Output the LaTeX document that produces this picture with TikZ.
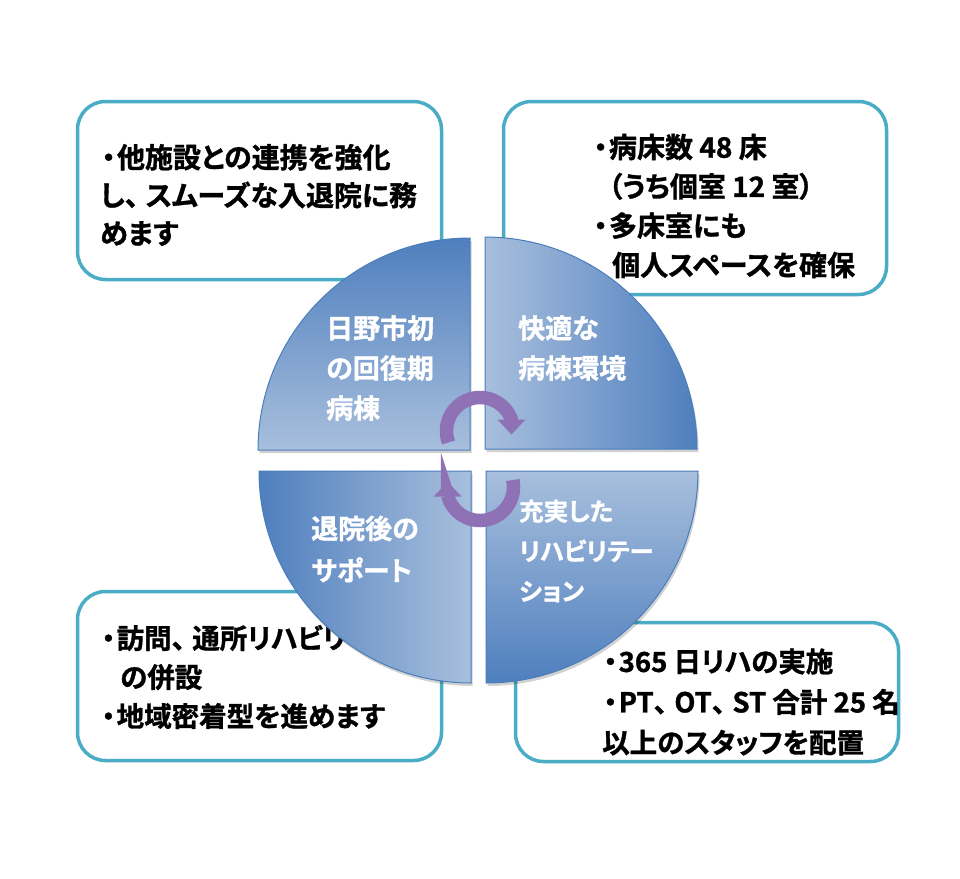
\documentclass[tikz,border=0pt]{standalone}
\usepackage{fontspec}
\setmainfont{Noto Sans CJK JP}[BoldFont={Noto Sans CJK JP Bold},BoldFeatures={FakeBold=1.2},CharacterWidth=AlternateProportional]
\usetikzlibrary{arrows.meta}
\definecolor{boxline}{HTML}{4BACC6}
\definecolor{wdark}{HTML}{4F7FBE}
\definecolor{wlight}{HTML}{A8BFDD}
\definecolor{wedgeline}{HTML}{4A7EBB}
\definecolor{arrowfill}{HTML}{8F72B6}
\newcommand{\bul}{\makebox[0.6em][c]{・}}
\newcommand{\tou}{\makebox[0.75em][l]{、}}
\begin{document}
\begin{tikzpicture}[x=1pt,y=-1pt,
  infobox/.style={draw=boxline, line width=3.5pt, rounded corners=28pt, fill=white, inner sep=0pt},
  boxtext/.style={anchor=west, align=left, inner sep=0pt, font=\bfseries\fontsize{27.5}{39}\selectfont, text=black},
  wedgetext/.style={anchor=west, align=left, inner sep=0pt, font=\bfseries\fontsize{27}{40}\selectfont, text=white},
  wedge/.style={draw=wedgeline, line width=1pt},
  wshadow/.style={fill=black, opacity=0.18, shift={(1.5,3)}},
  cyc/.style={line width=13.5pt, draw=arrowfill, -{Triangle[width=27pt,length=15pt]}}]
\useasboundingbox (0,0) rectangle (960,878);
\fill[white] (0,0) rectangle (960,878);
% info boxes
\node[infobox, minimum width=364pt, minimum height=178pt] (tlbox) at (259.5,190.5) {};
\node[infobox, minimum width=383pt, minimum height=193pt] (trbox) at (695,198) {};
\node[infobox, minimum width=364pt, minimum height=169pt] (blbox) at (259.5,676) {};
\node[infobox, minimum width=383pt, minimum height=139pt] (brbox) at (707,692) {};
% box texts
\node[boxtext, font=\bfseries\fontsize{28}{38}\selectfont] (tltext) at (100,195)
  {\bul 他施設との連携を強化\\し\tou スムーズな入退院に務\\めます};
\node[boxtext, font=\bfseries\fontsize{28}{39.3}\selectfont] (trtext) at (592,206)
  {\bul 病床数 48 床\\\hspace*{16pt}（うち個室 12 室）\\\bul 多床室にも\\\hspace*{20pt}個人スペースを確保};
\node[boxtext] (bltext) at (100,677)
  {\bul 訪問\tou 通所リハビリ\\\hspace*{20pt}の併設\\\bul 地域密着型を進めます};
\node[boxtext, font=\bfseries\fontsize{27.5}{40.5}\selectfont] (brtext) at (602,702)
  {\bul 365 日リハの実施\\\bul PT\tou OT\tou ST 合計 25 名\\以上のスタッフを配置};
% wedge shadows
\fill[wshadow] (470,450) -- (258,450) arc[start angle=180,end angle=270,radius=212] -- cycle;
\fill[wshadow] (485,449) -- (485,237) arc[start angle=270,end angle=360,radius=212] -- cycle;
\fill[wshadow] (486,471) -- (698,471) arc[start angle=0,end angle=90,radius=212] -- cycle;
\fill[wshadow] (471,471) -- (471,683) arc[start angle=90,end angle=180,radius=212] -- cycle;
% wedges
\shadedraw[wedge, top color=wdark, bottom color=wlight]
  (470,450) -- (258,450) arc[start angle=180,end angle=270,radius=212] -- cycle;
\shadedraw[wedge, left color=wlight, right color=wdark]
  (485,449) -- (485,237) arc[start angle=270,end angle=360,radius=212] -- cycle;
\shadedraw[wedge, top color=wlight, bottom color=wdark]
  (486,471) -- (698,471) arc[start angle=0,end angle=90,radius=212] -- cycle;
\shadedraw[wedge, left color=wdark, right color=wlight]
  (471,471) -- (471,683) arc[start angle=90,end angle=180,radius=212] -- cycle;
% cycle arrows
\coordinate (ca) at (480,431);
\coordinate (cb) at (480,487);
\draw[cyc] (ca) ++(160:33.5) arc[start angle=160,end angle=340,radius=33.5] -- ++(0,15);
\draw[cyc] (cb) ++(-12:33.5) arc[start angle=-12,end angle=165,radius=33.5] -- ++(0,-14);
% wedge texts
\node[wedgetext] (tlw) at (326,368) {日野市初\\の回復期\\病棟};
\node[wedgetext] (trw) at (518,348) {快適な\\病棟環境};
\node[wedgetext, font=\bfseries\fontsize{27}{42}\selectfont] (blw) at (311,549) {退院後の\\サポート};
\node[wedgetext, font=\bfseries\fontsize{24.5}{40}\selectfont] (brw) at (519,551) {充実した\\リハビリテー\\ション};
\end{tikzpicture}
\end{document}
